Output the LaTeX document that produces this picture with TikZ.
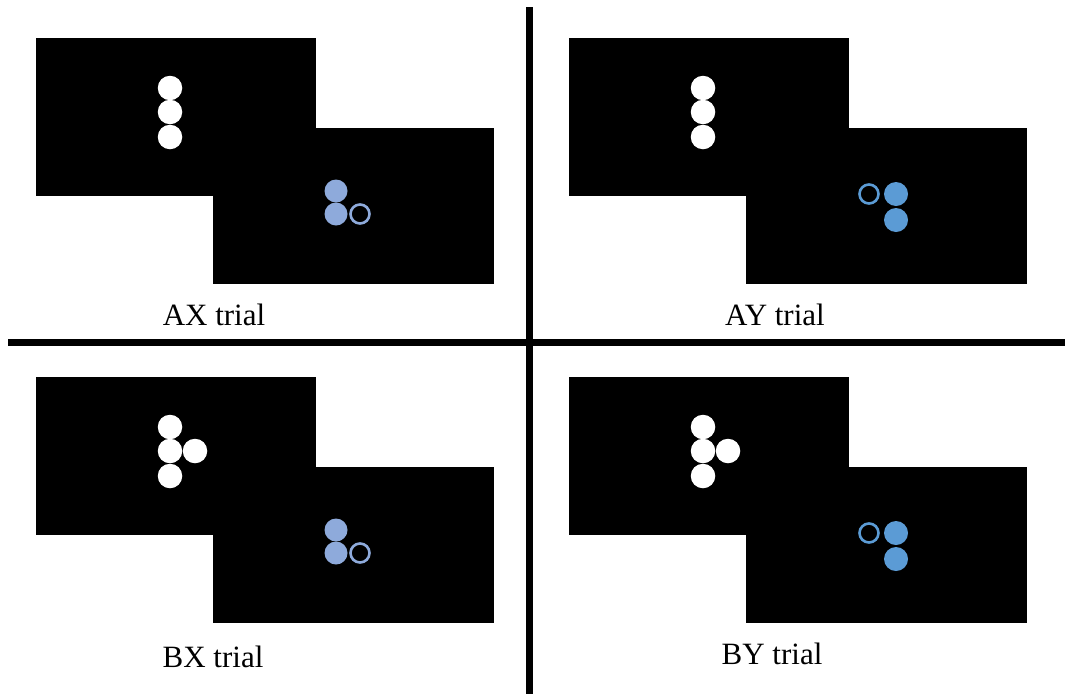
\documentclass[tikz,border=0pt]{standalone}
\usepackage{fontspec}
\setmainfont{Liberation Serif}
\begin{document}
\begin{tikzpicture}[x=1pt,y=-1pt,
  screen/.style={fill=black,draw=none},
  wdot/.style={circle,fill=white,draw=none,minimum size=24.5pt,inner sep=0pt},
  bdotA/.style={circle,fill=bluelight,draw=none,minimum size=23pt,inner sep=0pt},
  bringA/.style={circle,draw=bluelight,line width=2.6pt,fill=none,minimum size=19pt,inner sep=0pt},
  bdotB/.style={circle,fill=bluedark,draw=none,minimum size=24pt,inner sep=0pt},
  bringB/.style={circle,draw=bluedark,line width=2.6pt,fill=none,minimum size=19pt,inner sep=0pt},
  lbl/.style={font=\fontsize{31}{32}\selectfont,anchor=base},
  divider/.style={line width=7pt,black}]
\definecolor{bluelight}{HTML}{8EAADB}
\definecolor{bluedark}{HTML}{5B9BD5}
\useasboundingbox[fill=white] (0,0) rectangle (1070,694);
% panels
\foreach \dx/\dy in {0/0,533/0,0/339,533/339}{
  \begin{scope}[shift={(\dx,\dy)}]
    \fill[screen] (36,38) rectangle (316,196);
    \fill[screen] (213,128) rectangle (494,284);
  \end{scope}
}
% white cues: A (three vertical)
\foreach \dx in {0,533}{
  \node[wdot] (a1\dx) at (170+\dx,88) {};
  \node[wdot] (a2\dx) at (170+\dx,112) {};
  \node[wdot] (a3\dx) at (170+\dx,137) {};
}
% white cues: B
\foreach \dx in {0,533}{
  \node[wdot] (b1\dx) at (170+\dx,427) {};
  \node[wdot] (b2\dx) at (170+\dx,451) {};
  \node[wdot] (b3\dx) at (170+\dx,476) {};
  \node[wdot] (b4\dx) at (195+\dx,451) {};
}
% X probes
\foreach \dy in {0,339}{
  \node[bdotA] (x1\dy) at (336,191+\dy) {};
  \node[bdotA] (x2\dy) at (336,214+\dy) {};
  \node[bringA] (x3\dy) at (360,214+\dy) {};
}
% Y probes
\foreach \dy in {0,339}{
  \node[bringB] (y1\dy) at (869,194+\dy) {};
  \node[bdotB] (y2\dy) at (896,194+\dy) {};
  \node[bdotB] (y3\dy) at (896,220+\dy) {};
}
% dividers
\coordinate (vt) at (529.5,7);
\coordinate (vb) at (529.5,694);
\coordinate (hl) at (8,342.5);
\coordinate (hr) at (1065,342.5);
\draw[divider] (vt) -- (vb);
\draw[divider] (hl) -- (hr);
% labels
\node[lbl] (lax) at (214,325) {AX trial};
\node[lbl] (lay) at (775,325) {AY trial};
\node[lbl] (lbx) at (213,667) {BX trial};
\node[lbl] (lby) at (772,664) {BY trial};
\end{tikzpicture}
\end{document}
